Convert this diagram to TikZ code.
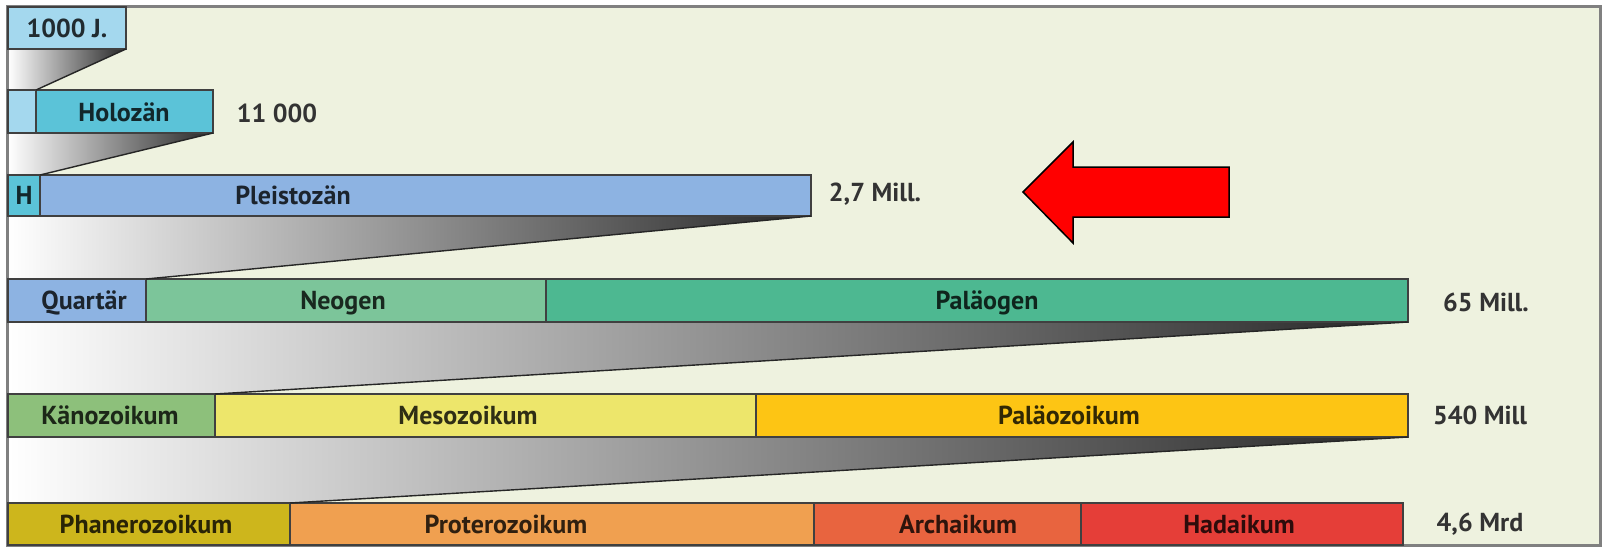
\documentclass[tikz,border=0pt]{standalone}
\usepackage{fontspec}
\setmainfont{PT Sans}
\pgfdeclarelayer{bg}
\pgfsetlayers{bg,main}
\definecolor{bgc}{HTML}{EEF2DF}
\definecolor{cJ}{HTML}{A4D8EE}
\definecolor{cHol}{HTML}{5BC3D8}
\definecolor{cPle}{HTML}{8DB3E2}
\definecolor{cNeo}{HTML}{7CC59A}
\definecolor{cPaG}{HTML}{4DB891}
\definecolor{cKan}{HTML}{8DC07B}
\definecolor{cMes}{HTML}{EDE66B}
\definecolor{cPaZ}{HTML}{FDC514}
\definecolor{cPha}{HTML}{CDB61C}
\definecolor{cPro}{HTML}{F0A050}
\definecolor{cArc}{HTML}{E8643F}
\definecolor{cHad}{HTML}{E53E38}
\definecolor{labc}{HTML}{333333}
\tikzset{
  bar/.style={draw=black!75, line width=1.6, inner sep=0pt, outer sep=0pt, anchor=north west},
  blab/.style={anchor=base, inner sep=0pt, font=\fontsize{26}{30}\selectfont\bfseries},
  rlab/.style={anchor=base, inner sep=0pt, text=labc, font=\fontsize{26}{30}\selectfont\bfseries},
  funnel/.style={left color=white, right color=black!85},
  fedge/.style={draw=black!85, line width=1.4},
}
\newcommand{\barnode}[6]{% name, color, x1, y1, x2, y2
  \node[bar, fill=#2, minimum width={#5-#3}, minimum height={#6-#4}] (#1) at (#3,#4) {};}
\begin{document}
\begin{tikzpicture}[x=1pt,y=-1pt]
\useasboundingbox (0,0) rectangle (1604,547);
\begin{pgfonlayer}{bg}
\fill[bgc] (7,6) rectangle (1600,545);
\end{pgfonlayer}
\draw[gray, line width=3] (7,6) rectangle (1600,545);

% row 1
\barnode{yr}{cJ}{8}{7}{126}{49}
% row 2
\barnode{holL}{cJ}{8}{90}{36}{133}
\barnode{hol}{cHol}{36}{90}{213}{133}
% row 3
\barnode{hH}{cHol}{8}{175}{40}{216}
\barnode{ple}{cPle}{40}{175}{811}{216}
% row 4
\barnode{qua}{cPle}{8}{279}{146}{322}
\barnode{neo}{cNeo}{146}{279}{546}{322}
\barnode{pag}{cPaG}{546}{279}{1408}{322}
% row 5
\barnode{kan}{cKan}{8}{394}{215}{437}
\barnode{mes}{cMes}{215}{394}{756}{437}
\barnode{paz}{cPaZ}{756}{394}{1408}{437}
% row 6
\barnode{pha}{cPha}{8}{503}{290}{545}
\barnode{pro}{cPro}{290}{503}{814}{545}
\barnode{arc}{cArc}{814}{503}{1081}{545}
\barnode{had}{cHad}{1081}{503}{1403}{545}

% funnels
\begin{pgfonlayer}{bg}
\shade[funnel] (yr.south west) -- (yr.south east) -- (holL.north east) -- (holL.north west) -- cycle;
\shade[funnel] (holL.south west) -- (hol.south east) -- (hH.north east) -- (hH.north west) -- cycle;
\shade[funnel] (hH.south west) -- (ple.south east) -- (qua.north east) -- (qua.north west) -- cycle;
\shade[funnel] (qua.south west) -- (pag.south east) -- (kan.north east) -- (kan.north west) -- cycle;
\shade[funnel] (kan.south west) -- (paz.south east) -- (pha.north east) -- (pha.north west) -- cycle;
\end{pgfonlayer}
\draw[fedge] (yr.south east) -- (holL.north east);
\draw[fedge] (hol.south east) -- (hH.north east);
\draw[fedge] (ple.south east) -- (qua.north east);
\draw[fedge] (pag.south east) -- (kan.north east);
\draw[fedge] (paz.south east) -- (pha.north east);

% bar labels
\node[blab, text=cJ!20!black] (tyr) at (67,37) {1000 J.};
\node[blab, text=cHol!20!black] (thol) at (124,121) {Holozän};
\node[blab, text=cHol!20!black] (thH) at (24,204) {H};
\node[blab, text=cPle!20!black] (tple) at (293,204) {Pleistozän};
\node[blab, text=cPle!20!black] (tqua) at (84,309) {Quartär};
\node[blab, text=cNeo!20!black] (tneo) at (343,309) {Neogen};
\node[blab, text=cPaG!20!black] (tpag) at (987,309) {Paläogen};
\node[blab, text=cKan!20!black] (tkan) at (110,424) {Känozoikum};
\node[blab, text=cMes!20!black] (tmes) at (468,424) {Mesozoikum};
\node[blab, text=cPaZ!20!black] (tpaz) at (1069,424) {Paläozoikum};
\node[blab, text=cPha!20!black] (tpha) at (146,533) {Phanerozoikum};
\node[blab, text=cPro!20!black] (tpro) at (506,533) {Proterozoikum};
\node[blab, text=cArc!20!black] (tarc) at (958,533) {Archaikum};
\node[blab, text=cHad!20!black] (thad) at (1239,533) {Hadaikum};

% right labels
\node[rlab] (l1) at (277,122) {11 000};
\node[rlab] (l2) at (875,201) {2,7 Mill.};
\node[rlab] (l3) at (1486,311) {65 Mill.};
\node[rlab] (l4) at (1480,424) {540 Mill};
\node[rlab] (l5) at (1480,531) {4,6 Mrd};

% red arrow
\coordinate (tip) at (1023,192);
\draw[fill=red, draw=black, line width=1.5, line join=miter]
  (tip) -- (1073,142) -- (1073,167) -- (1229,167) -- (1229,217) -- (1073,217) -- (1073,243) -- cycle;
\end{tikzpicture}
\end{document}
